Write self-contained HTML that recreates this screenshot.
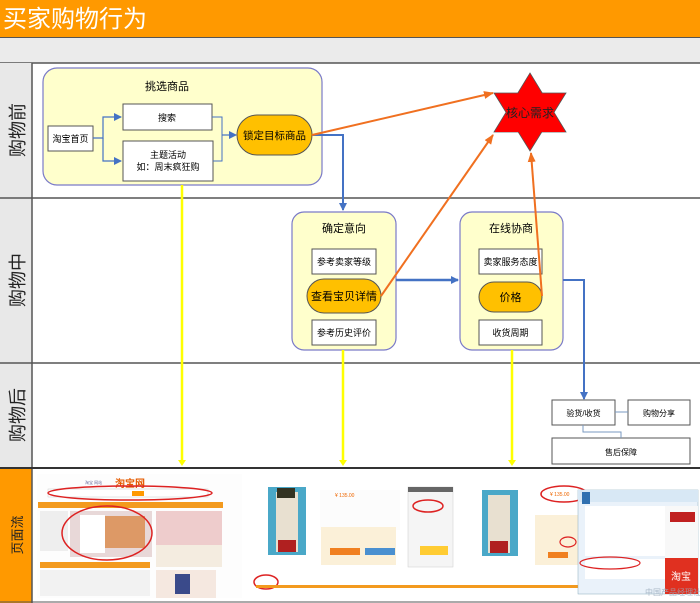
<!DOCTYPE html>
<html><head><meta charset="utf-8"><style>
html,body{margin:0;padding:0;background:#fff}
svg{display:block}
text{font-family:"Liberation Sans","Noto Sans CJK SC",sans-serif}
</style></head><body>
<svg width="700" height="603" viewBox="0 0 700 603" xmlns="http://www.w3.org/2000/svg">
<defs>
<marker id="ab" markerWidth="8" markerHeight="8" refX="7" refY="4" orient="auto" markerUnits="userSpaceOnUse"><path d="M0,0 L8,4 L0,8 z" fill="#4472c4"/></marker>
<marker id="ao" markerWidth="10" markerHeight="8" refX="9" refY="4" orient="auto" markerUnits="userSpaceOnUse"><path d="M0,0 L10,4 L0,8 z" fill="#f07020"/></marker>
<marker id="ay" markerWidth="8" markerHeight="6" refX="4" refY="5" orient="auto" markerUnits="userSpaceOnUse"><path d="M0,0 L8,0 L4,6 z" fill="#ffff00" transform="rotate(-90 4 3)"/></marker>
</defs>
<!-- title -->
<rect x="0" y="0" width="700" height="37" fill="#ff9900"/>
<line x1="0" y1="37.5" x2="700" y2="37.5" stroke="#555"/>
<text x="3" y="27" font-size="24" fill="#fff">买家购物行为</text>
<rect x="0" y="38" width="700" height="25" fill="#ebebeb"/>
<line x1="0" y1="63" x2="700" y2="63" stroke="#555" stroke-width="1.5"/>
<!-- left column -->
<rect x="0" y="63" width="32" height="405" fill="#e8e8e8"/>
<rect x="0" y="468" width="32" height="135" fill="#ff9900"/>
<line x1="32" y1="63" x2="32" y2="603" stroke="#555" stroke-width="1.5"/>
<line x1="0" y1="198" x2="700" y2="198" stroke="#555" stroke-width="1.5"/>
<line x1="0" y1="363" x2="700" y2="363" stroke="#555" stroke-width="1.5"/>
<line x1="0" y1="468" x2="700" y2="468" stroke="#333" stroke-width="2"/>
<line x1="0" y1="602" x2="700" y2="602" stroke="#555"/>
<text transform="translate(24,130) rotate(-90)" font-size="18" text-anchor="middle" fill="#222">购物前</text>
<text transform="translate(24,280) rotate(-90)" font-size="18" text-anchor="middle" fill="#222">购物中</text>
<text transform="translate(24,415) rotate(-90)" font-size="18" text-anchor="middle" fill="#222">购物后</text>
<text transform="translate(22,535) rotate(-90)" font-size="13" text-anchor="middle" fill="#222">页面流</text>

<!-- box 1 -->
<rect x="43" y="68" width="279" height="117" rx="14" fill="#ffffcc" stroke="#7a7ac8" stroke-width="1.2"/>
<text x="167" y="90" font-size="11" text-anchor="middle">挑选商品</text>
<rect x="48" y="126" width="45" height="25" fill="#fff" stroke="#555"/>
<text x="70.5" y="142" font-size="9" text-anchor="middle">淘宝首页</text>
<rect x="123" y="104" width="89" height="26" fill="#fff" stroke="#555"/>
<text x="167" y="121" font-size="9" text-anchor="middle">搜索</text>
<rect x="123" y="141" width="90" height="40" fill="#fff" stroke="#555"/>
<text x="168" y="158" font-size="9" text-anchor="middle">主题活动</text>
<text x="168" y="170" font-size="9" text-anchor="middle">如：周末疯狂购</text>
<path d="M93,138 H103 V117 H121" fill="none" stroke="#4472c4" stroke-width="1.2" marker-end="url(#ab)"/>
<path d="M103,138 V161 H121" fill="none" stroke="#4472c4" stroke-width="1.2" marker-end="url(#ab)"/>
<path d="M212,117 H222 V161 H213" fill="none" stroke="#4472c4" stroke-width="1"/>
<path d="M222,135 H236" fill="none" stroke="#4472c4" stroke-width="1.2" marker-end="url(#ab)"/>
<rect x="237" y="115" width="75" height="40" rx="20" fill="#ffc000" stroke="#555"/>
<text x="274.5" y="139" font-size="10.5" text-anchor="middle">锁定目标商品</text>

<!-- star -->
<polygon points="530,73 566,132 494,132" fill="#ff0000" stroke="#555" stroke-width="0.8"/>
<polygon points="530,151 566,93 494,93" fill="#ff0000" stroke="#555" stroke-width="0.8"/>
<polygon points="530,74 565,132 495,132" fill="#ff0000"/>
<text x="530" y="117" font-size="12" text-anchor="middle" fill="#222">核心需求</text>

<!-- box 2 -->
<rect x="292" y="212" width="104" height="138" rx="12" fill="#ffffcc" stroke="#7a7ac8" stroke-width="1.2"/>
<text x="344" y="232" font-size="11" text-anchor="middle">确定意向</text>
<rect x="312" y="249" width="64" height="25" fill="#fff" stroke="#555"/>
<text x="344" y="265" font-size="9" text-anchor="middle">参考卖家等级</text>
<rect x="307" y="279" width="74" height="34" rx="17" fill="#ffc000" stroke="#555"/>
<text x="344" y="300" font-size="11" text-anchor="middle">查看宝贝详情</text>
<rect x="312" y="320" width="64" height="25" fill="#fff" stroke="#555"/>
<text x="344" y="336" font-size="9" text-anchor="middle">参考历史评价</text>

<!-- box 3 -->
<rect x="460" y="212" width="103" height="138" rx="12" fill="#ffffcc" stroke="#7a7ac8" stroke-width="1.2"/>
<text x="511" y="232" font-size="11" text-anchor="middle">在线协商</text>
<rect x="479" y="249" width="63" height="25" fill="#fff" stroke="#555"/>
<text x="510.5" y="265" font-size="9" text-anchor="middle">卖家服务态度</text>
<rect x="479" y="282" width="63" height="30" rx="15" fill="#ffc000" stroke="#555"/>
<text x="510.5" y="301" font-size="11" text-anchor="middle">价格</text>
<rect x="479" y="320" width="63" height="25" fill="#fff" stroke="#555"/>
<text x="510.5" y="336" font-size="9" text-anchor="middle">收货周期</text>

<!-- blue connectors -->
<path d="M312,135 H343 V210" fill="none" stroke="#4472c4" stroke-width="2" marker-end="url(#ab)"/>
<path d="M396,280 H458" fill="none" stroke="#4472c4" stroke-width="2.5" marker-end="url(#ab)"/>
<path d="M563,280 H584 V399" fill="none" stroke="#4472c4" stroke-width="2" marker-end="url(#ab)"/>

<!-- orange -->
<line x1="312" y1="135" x2="493" y2="93" stroke="#f07020" stroke-width="2" marker-end="url(#ao)"/>
<line x1="381" y1="296" x2="493" y2="135" stroke="#f07020" stroke-width="2" marker-end="url(#ao)"/>
<line x1="542" y1="296" x2="531" y2="153" stroke="#f07020" stroke-width="2" marker-end="url(#ao)"/>

<!-- yellow -->
<line x1="182" y1="185" x2="182" y2="462" stroke="#ffff00" stroke-width="2.5"/>
<line x1="343" y1="350" x2="343" y2="462" stroke="#ffff00" stroke-width="2.5"/>
<line x1="512" y1="350" x2="512" y2="462" stroke="#ffff00" stroke-width="2.5"/>
<path d="M178,460 L186,460 L182,466 z M339,460 L347,460 L343,466 z M508,460 L516,460 L512,466 z" fill="#ffff00"/>

<!-- after -->
<rect x="552" y="400" width="63" height="25" fill="#fff" stroke="#555"/>
<text x="583.5" y="416" font-size="8" text-anchor="middle">验货/收货</text>
<rect x="628" y="400" width="62" height="25" fill="#fff" stroke="#555"/>
<text x="659" y="416" font-size="8" text-anchor="middle">购物分享</text>
<rect x="552" y="438" width="138" height="26" fill="#fff" stroke="#555"/>
<text x="621" y="455" font-size="8" text-anchor="middle">售后保障</text>
<path d="M615,412 H628 M583,425 V432 H621 V438" fill="none" stroke="#7a9ac0"/>

<!-- page flow screenshots -->
<g>
<rect x="37" y="474" width="205" height="124" fill="#fdfdfd"/>
<text x="85" y="484" font-size="4" fill="#669">淘宝 网站</text>
<text x="115" y="487" font-size="10" fill="#e65a00" font-weight="bold">淘宝网</text>
<rect x="48" y="489" width="160" height="8" fill="#fff" stroke="#ccc" stroke-width="0.5"/>
<rect x="132" y="491" width="12" height="5" fill="#f90"/>
<ellipse cx="130" cy="493" rx="82" ry="7" fill="none" stroke="#d22" stroke-width="1.5"/>
<rect x="38" y="502" width="185" height="6" fill="#f39a1e"/>
<rect x="40" y="511" width="28" height="40" fill="#eee"/>
<rect x="70" y="511" width="82" height="46" fill="#e8d8d8"/>
<rect x="80" y="515" width="25" height="38" fill="#fff"/>
<rect x="105" y="516" width="40" height="32" fill="#d96"/>
<ellipse cx="107" cy="533" rx="45" ry="27" fill="none" stroke="#d22" stroke-width="1.5"/>
<rect x="156" y="511" width="66" height="34" fill="#ecc"/>
<rect x="156" y="545" width="66" height="22" fill="#f4ece0"/>
<rect x="40" y="562" width="110" height="6" fill="#f39a1e"/>
<rect x="40" y="570" width="110" height="26" fill="#f2f2f2"/>
<rect x="156" y="570" width="60" height="28" fill="#f5e8e0"/>
<rect x="175" y="574" width="15" height="20" fill="#3a4a8a"/>
</g>
<g>
<rect x="253" y="480" width="88" height="6" fill="#fff"/>
<rect x="268" y="487" width="38" height="68" fill="#4aa8c8"/>
<rect x="276" y="492" width="22" height="60" fill="#e8e0d0"/>
<rect x="278" y="540" width="18" height="12" fill="#b02020"/>
<rect x="277" y="488" width="18" height="10" fill="#332"/>
<rect x="320" y="490" width="80" height="40" fill="#fcfcfc"/>
<text x="335" y="497" font-size="5" fill="#e60">¥ 135.00</text>
<rect x="321" y="527" width="75" height="38" fill="#fbf0d8"/>
<rect x="330" y="548" width="30" height="7" fill="#f08020"/>
<rect x="365" y="548" width="30" height="7" fill="#4a90d0"/>
<rect x="408" y="487" width="45" height="80" fill="#f5f5f5" stroke="#ccc" stroke-width="0.5"/>
<rect x="408" y="487" width="45" height="5" fill="#666"/>
<ellipse cx="428" cy="506" rx="15" ry="6" fill="none" stroke="#d22" stroke-width="1.5"/>
<rect x="420" y="546" width="28" height="9" fill="#fc3"/>
<ellipse cx="266" cy="582" rx="12" ry="7" fill="none" stroke="#d22" stroke-width="1.5"/>
<rect x="256" y="585" width="200" height="3" fill="#f39a1e"/>
</g>
<g>
<rect x="482" y="490" width="36" height="66" fill="#4aa8c8"/>
<rect x="488" y="495" width="22" height="58" fill="#e8e0d0"/>
<rect x="490" y="541" width="18" height="12" fill="#b02020"/>
<ellipse cx="564" cy="494" rx="23" ry="8" fill="none" stroke="#d22" stroke-width="1.5"/>
<text x="550" y="496" font-size="5" fill="#e60">¥ 135.00</text>
<rect x="535" y="515" width="45" height="50" fill="#fbf0d8"/>
<rect x="548" y="552" width="20" height="6" fill="#f08020"/>
<ellipse cx="568" cy="542" rx="8" ry="5" fill="none" stroke="#d22" stroke-width="1.2"/>
<rect x="434" y="585" width="230" height="3" fill="#f39a1e"/>
<rect x="578" y="490" width="120" height="104" fill="#eaf2fa" stroke="#8ab" stroke-width="0.5"/>
<rect x="578" y="490" width="120" height="12" fill="#d8e8f5"/>
<rect x="582" y="492" width="8" height="12" fill="#3070b0"/>
<rect x="585" y="506" width="80" height="50" fill="#fff"/>
<rect x="665" y="506" width="33" height="55" fill="#f8f8f8"/>
<rect x="670" y="512" width="25" height="10" fill="#c02020"/>
<rect x="585" y="559" width="80" height="20" fill="#fff"/>
<ellipse cx="610" cy="563" rx="30" ry="6" fill="none" stroke="#d22" stroke-width="1.2"/>
<rect x="665" y="558" width="33" height="36" fill="#e03020"/>
<text x="681" y="580" font-size="10" text-anchor="middle" fill="#fff">淘宝</text>
<text x="645" y="595" font-size="8" fill="#9ab" opacity="0.8">中国产品经理社区</text>
</g>
</svg>
</body></html>
